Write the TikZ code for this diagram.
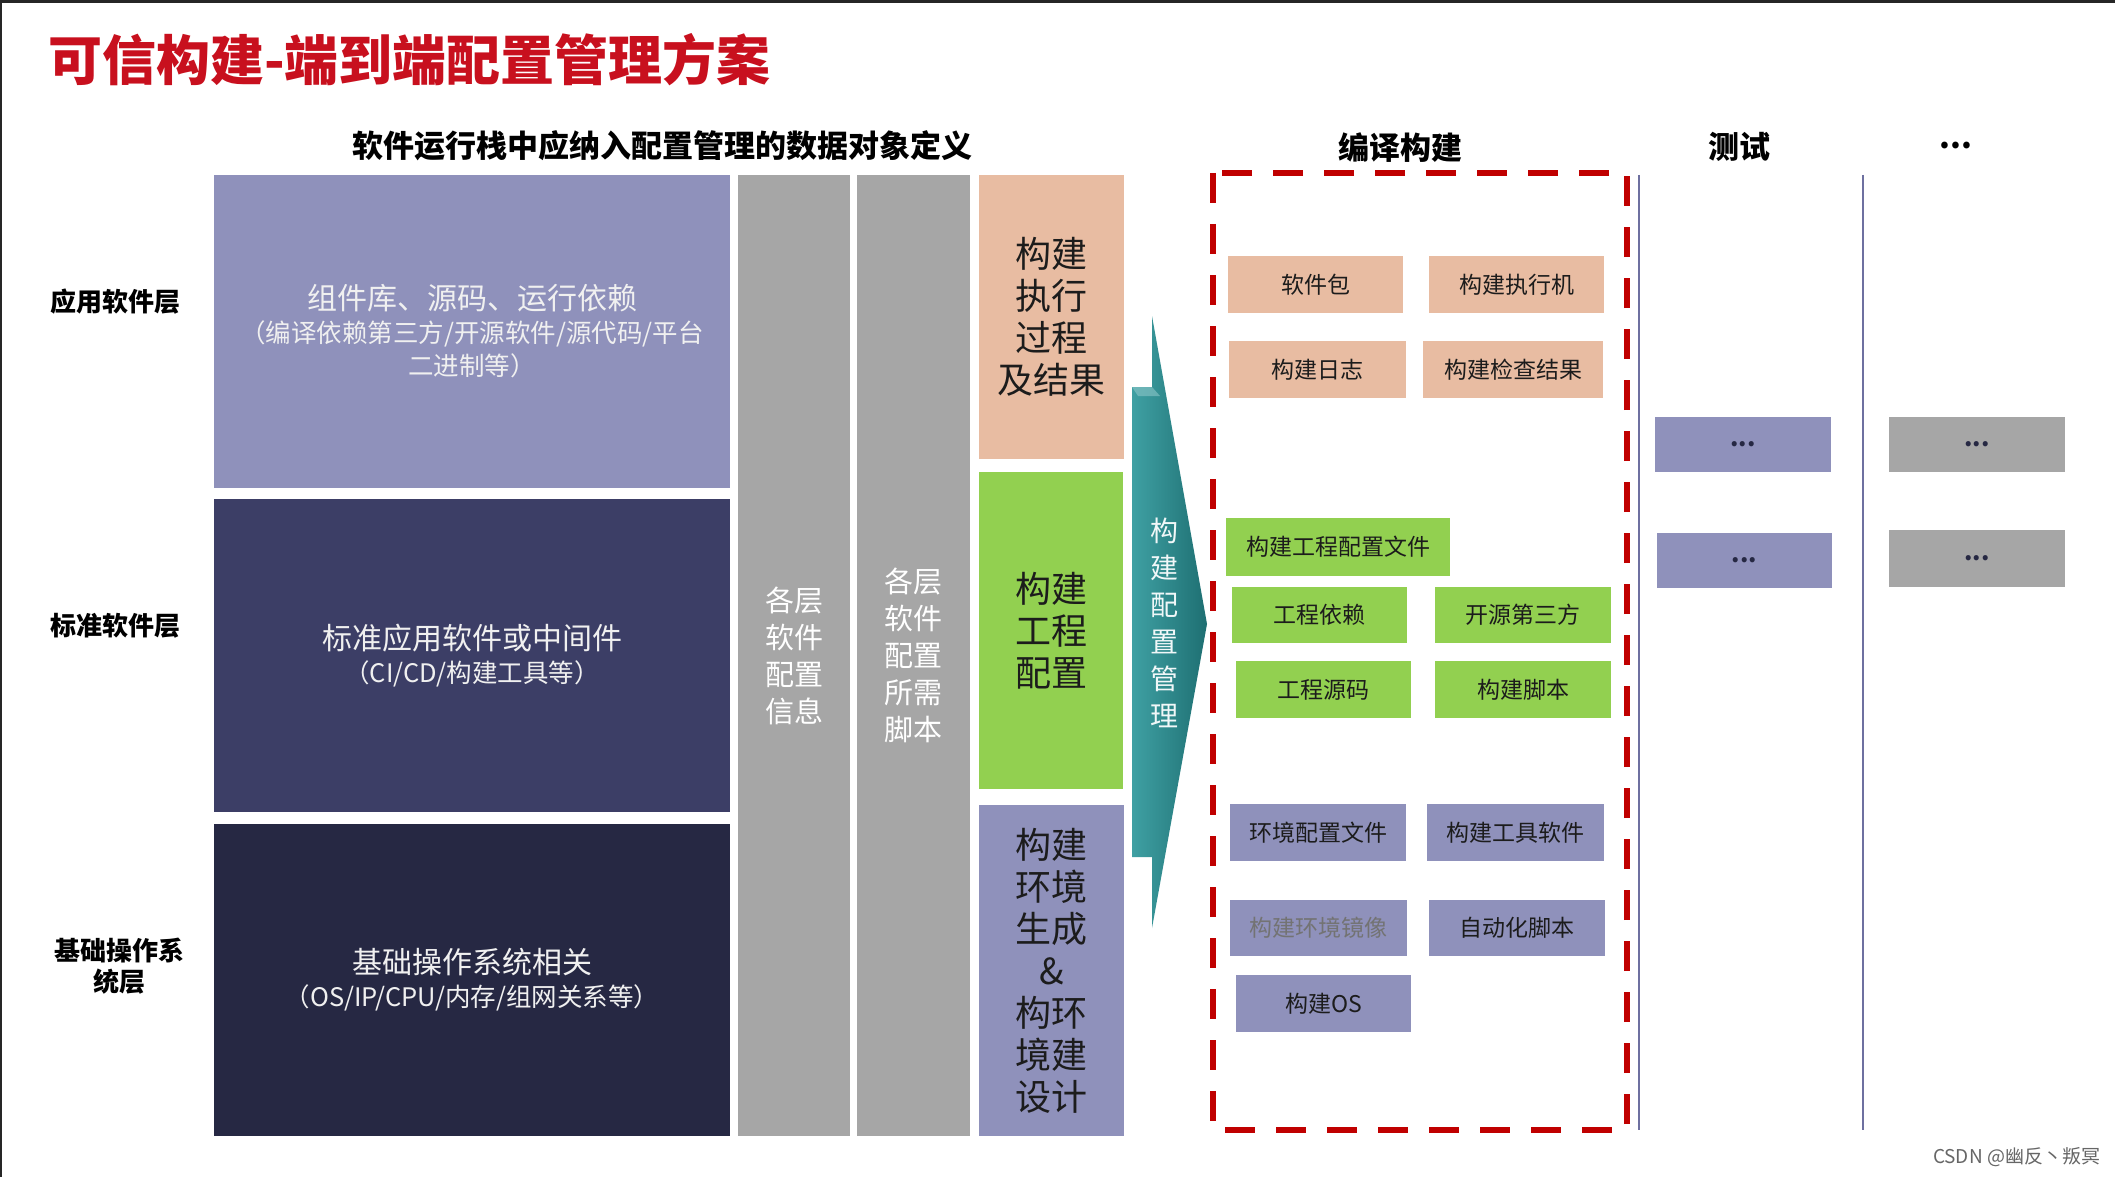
\documentclass[tikz,border=0pt]{standalone}
\usepackage{fontspec}
\setmainfont{Noto Sans CJK SC}
\definecolor{lpurple}{HTML}{8F91BB}
\definecolor{midnavy}{HTML}{3C3E66}
\definecolor{darknavy}{HTML}{262843}
\definecolor{colgray}{HTML}{A6A6A6}
\definecolor{salmon}{HTML}{E8BCA2}
\definecolor{lgreen}{HTML}{92D050}
\definecolor{titlered}{HTML}{C8101E}
\definecolor{dashred}{HTML}{C00000}
\definecolor{sepline}{HTML}{6E70A0}
\definecolor{tealA}{HTML}{3FA0A3}
\definecolor{tealB}{HTML}{1E6F72}
\definecolor{inktext}{HTML}{1C1C1C}
\newcommand\mkbox[7]{\node[#6, minimum width={(#4)-(#2)}, minimum height={(#5)-(#3)}] (#1) at ({((#2)+(#4))/2},{((#3)+(#5))/2}) {#7};}
\begin{document}
\begin{tikzpicture}[x=1pt,y=-1pt,
  every node/.style={inner sep=0pt, outer sep=0pt},
  bigbox/.style={fill=#1, text=white!94!black, align=center, font=\fontsize{25.5}{33}\selectfont},
  colbox/.style={fill=#1, text=inktext, align=center, font=\fontsize{36}{42}\selectfont},
  graycol/.style={fill=colgray, text=white, align=center, font=\fontsize{29}{37}\selectfont},
  smallbox/.style={fill=#1, text=inktext, font=\fontsize{23}{26}\selectfont},
  dotbox/.style={fill=#1, text=darknavy, font=\fontsize{24}{26}\selectfont\bfseries},
  layerlabel/.style={text=black, align=center, font=\fontsize{26}{31}\selectfont\bfseries},
  heading/.style={text=black, font=\fontsize{31}{34}\selectfont\bfseries}
]
\useasboundingbox[fill=white] (0,0) rectangle (2115,1177);
\fill[black!85] (0,0) rectangle (2115,3);
\fill[black!85] (0,0) rectangle (2,1177);

% title and headings
\node[anchor=west, text=titlered, font=\fontsize{54}{58}\selectfont\bfseries] (title) at (48,60) {可信构建-端到端配置管理方案};
\node[heading] (hstack) at (662,146) {软件运行栈中应纳入配置管理的数据对象定义};
\node[heading] (hbuild) at (1400,148) {编译构建};
\node[heading] (htest) at (1739,147) {测试};
\node[heading] (hmore) at (1956,146) {...};

% layer labels
\node[layerlabel] (lapp) at (115,302) {应用软件层};
\node[layerlabel] (lstd) at (115,626) {标准软件层};
\node[layerlabel] (los) at (119,966) {基础操作系\\统层};

% big left boxes
\mkbox{app}{214}{175}{730}{488}{bigbox=lpurple}{{\fontsize{30}{36}\selectfont 组件库、源码、运行依赖}\\（编译依赖第三方/开源软件/源代码/平台\\二进制等）}
\mkbox{std}{214}{499}{730}{812}{bigbox=midnavy}{{\fontsize{30}{36}\selectfont 标准应用软件或中间件}\\（CI/CD/构建工具等）}
\mkbox{os}{214}{824}{730}{1136}{bigbox=darknavy}{{\fontsize{30}{36}\selectfont 基础操作系统相关}\\（OS/IP/CPU/内存/组网关系等）}

% gray columns
\mkbox{cfginfo}{738}{175}{850}{1136}{graycol}{各层\\软件\\配置\\信息}
\mkbox{cfgscript}{857}{175}{970}{1136}{graycol}{各层\\软件\\配置\\所需\\脚本}

% build columns
\mkbox{exec}{979}{175}{1124}{459}{colbox=salmon}{构建\\执行\\过程\\及结果}
\mkbox{proj}{979}{472}{1123}{789}{colbox=lgreen}{构建\\工程\\配置}
\mkbox{env}{979}{805}{1124}{1136}{colbox=lpurple}{构建\\环境\\生成\\\&\\构环\\境建\\设计}

% teal arrow
\shade[left color=tealA, right color=tealB]
  (1152,316) -- (1207,624) -- (1152,928) -- (1152,857) -- (1132,857)
  -- (1132,387) -- (1152,387) -- cycle;
\fill[tealA!60!white, opacity=0.6] (1132,387) -- (1152,387) -- (1160,396) -- (1138,396) -- cycle;
\node[text=white!92!tealA, align=center, font=\fontsize{28}{37}\selectfont] (cmtext) at (1164,623) {构\\建\\配\\置\\管\\理};

% dashed build frame
\draw[dashred, line width=6pt, dash pattern=on 30pt off 21pt] (1213,173) rectangle (1627,1130);

% separators
\draw[sepline, line width=2pt] (1639,175) -- (1639,1130);
\draw[sepline, line width=2pt] (1863,175) -- (1863,1130);

% salmon small boxes
\mkbox{pkg}{1228}{256}{1403}{313}{smallbox=salmon}{软件包}
\mkbox{runner}{1429}{256}{1604}{313}{smallbox=salmon}{构建执行机}
\mkbox{blog}{1229}{341}{1406}{398}{smallbox=salmon}{构建日志}
\mkbox{bcheck}{1423}{341}{1603}{398}{smallbox=salmon}{构建检查结果}
% green small boxes
\mkbox{pcfg}{1226}{518}{1450}{576}{smallbox=lgreen}{构建工程配置文件}
\mkbox{pdep}{1232}{587}{1407}{643}{smallbox=lgreen}{工程依赖}
\mkbox{oss}{1435}{587}{1611}{643}{smallbox=lgreen}{开源第三方}
\mkbox{psrc}{1236}{661}{1411}{718}{smallbox=lgreen}{工程源码}
\mkbox{bscript}{1435}{661}{1611}{718}{smallbox=lgreen}{构建脚本}
% purple small boxes
\mkbox{ecfg}{1230}{804}{1406}{861}{smallbox=lpurple}{环境配置文件}
\mkbox{tools}{1427}{804}{1604}{861}{smallbox=lpurple}{构建工具软件}
\mkbox{image}{1230}{900}{1407}{956}{smallbox=lpurple, text=black!55}{构建环境镜像}
\mkbox{auto}{1429}{900}{1605}{956}{smallbox=lpurple}{自动化脚本}
\mkbox{bos}{1236}{975}{1411}{1032}{smallbox=lpurple}{构建OS}

% test column
\mkbox{t1}{1655}{417}{1831}{472}{dotbox=lpurple}{...}
\mkbox{t2}{1657}{533}{1832}{588}{dotbox=lpurple}{...}
% more column
\mkbox{m1}{1889}{417}{2065}{472}{dotbox=colgray}{...}
\mkbox{m2}{1889}{530}{2065}{587}{dotbox=colgray}{...}

% watermark
\node[anchor=east, text=black!60, font=\fontsize{19}{22}\selectfont] (wm) at (2100,1157) {CSDN @幽反丶叛冥};
\end{tikzpicture}
\end{document}
